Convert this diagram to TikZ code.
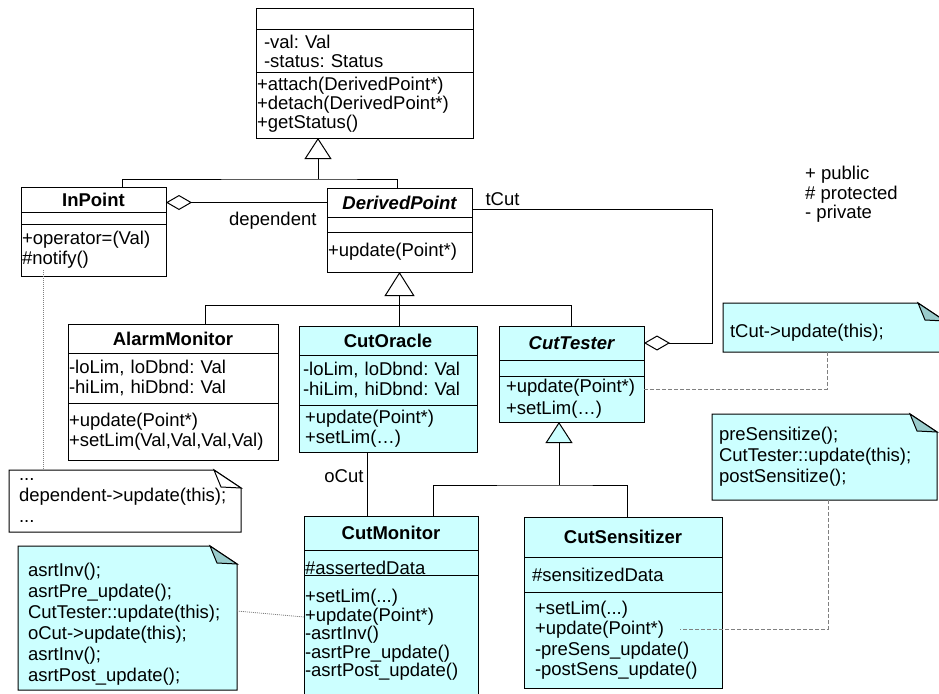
\documentclass[tikz,border=0pt]{standalone}
\usepackage{fontspec}
\setmainfont{Liberation Sans}
\usetikzlibrary{positioning,arrows.meta,backgrounds}
\definecolor{clsfill}{RGB}{204,255,255}
\definecolor{foldfill}{RGB}{153,204,204}
\hyphenpenalty=10000
\exhyphenpenalty=10000
\frenchspacing

\begin{document}
\begin{tikzpicture}[x=1pt, y=-1pt]
  \tikzstyle{compart} = [draw, line width=1pt, outer sep=0pt, inner ysep=0pt, inner xsep=0pt, align=left,
                         font=\fontsize{18.5}{20}\selectfont]
  \tikzstyle{cname} = [compart, align=center, font=\fontsize{18.5}{20}\selectfont\bfseries]
  \tikzstyle{cnamei} = [compart, align=center, font=\fontsize{18.5}{20}\selectfont\bfseries\itshape]
  \tikzstyle{note} = [inner ysep=0pt, outer sep=0pt, align=left, font=\fontsize{18.5}{21}\selectfont]
  \tikzstyle{lbl} = [inner sep=3pt, font=\fontsize{18.5}{20}\selectfont]
  \tikzstyle{conn} = [line width=1pt]
  \tikzstyle{inherit} = [line width=1pt, -{Triangle[width=27pt, length=21pt, fill=white]}]
  \tikzstyle{inheritc} = [line width=1pt, -{Triangle[width=27pt, length=21pt, fill=clsfill]}]
  \tikzstyle{aggreg} = [line width=1pt, {Diamond[width=15pt, length=26pt, fill=white]}-]
  \tikzstyle{notedash} = [line width=1pt, gray, dash pattern=on 4pt off 2pt]
  \tikzstyle{notedot} = [line width=0.8pt, gray, dash pattern=on 1pt off 1pt]
  \useasboundingbox (0,0) rectangle (939,693);

  \node[compart, text width=217pt, minimum height=21pt, anchor=north west] (ptName) at (256,9) {};
  \node[compart, text width=201pt, inner xsep=8pt, minimum height=42pt, below=0pt of ptName, font=\fontsize{18.5}{19}\selectfont] (ptAttr) {-val: Val\\-status: Status};
  \node[compart, text width=215pt, inner xsep=1pt, minimum height=66pt, below=0pt of ptAttr, font=\fontsize{18.5}{19}\selectfont] (ptOps) {+attach(DerivedPoint*)\\+detach(DerivedPoint*)\\+getStatus()};

  \node[cname, text width=145pt, minimum height=25pt, anchor=north west] (inName) at (21,187) {InPoint};
  \node[compart, text width=145pt, minimum height=12pt, below=0pt of inName] (inAttr) {};
  \node[compart, text width=143pt, inner xsep=1pt, minimum height=52pt, below=0pt of inAttr] (inOps) {+operator=(Val)\\\#notify()};

  \node[cnamei, text width=145pt, minimum height=29pt, anchor=north west] (dpName) at (327,188) {DerivedPoint};
  \node[compart, text width=145pt, minimum height=15pt, below=0pt of dpName] (dpAttr) {};
  \node[compart, text width=143pt, inner xsep=1pt, minimum height=40pt, below=0pt of dpAttr] (dpOps) {+update(Point*)};

  \node[cname, text width=210pt, minimum height=29pt, anchor=north west] (amName) at (68,324) {AlarmMonitor};
  \node[compart, text width=208pt, inner xsep=1pt, minimum height=50pt, below=0pt of amName] (amAttr) {-loLim, loDbnd: Val\\-hiLim, hiDbnd: Val};
  \node[compart, text width=208pt, inner xsep=1pt, minimum height=57pt, below=0pt of amAttr] (amOps) {+update(Point*)\\+setLim(Val,Val,Val,Val)};

  \node[cname, fill=clsfill, text width=178pt, minimum height=29pt, anchor=north west] (coName) at (299,326) {CutOracle};
  \node[compart, fill=clsfill, text width=170pt, inner xsep=4pt, minimum height=50pt, below=0pt of coName] (coAttr) {-loLim, loDbnd: Val\\-hiLim, hiDbnd: Val};
  \node[compart, fill=clsfill, text width=166pt, inner xsep=6pt, minimum height=47pt, below=0pt of coAttr] (coOps) {+update(Point*)\\+setLim(…)};

  \node[cnamei, fill=clsfill, text width=145pt, minimum height=34pt, anchor=north west] (ctName) at (499,326) {CutTester};
  \node[compart, fill=clsfill, text width=145pt, minimum height=16pt, below=0pt of ctName] (ctAttr) {};
  \node[compart, fill=clsfill, text width=131pt, inner xsep=7pt, minimum height=46pt, below=0pt of ctAttr, font=\fontsize{18.5}{22}\selectfont] (ctOps) {+update(Point*)\\+setLim(…)};

  \node[cname, fill=clsfill, text width=174pt, minimum height=34pt, anchor=north west] (cmName) at (304,516) {CutMonitor};
  \node[compart, fill=clsfill, text width=172pt, inner xsep=1pt, minimum height=25pt, text height=24pt, below=0pt of cmName] (cmAttr) {\#assertedData};
  \node[compart, fill=clsfill, text width=172pt, inner xsep=1pt, minimum height=120pt, below=0pt of cmAttr, font=\fontsize{18.5}{18.5}\selectfont] (cmOps) {+setLim(...)\\+update(Point*)\\-asrtInv()\\-asrtPre\_update()\\-asrtPost\_update()};

  \node[cname, fill=clsfill, text width=198pt, minimum height=40pt, anchor=north west] (csName) at (524,517) {CutSensitizer};
  \node[compart, fill=clsfill, text width=182pt, inner xsep=8pt, minimum height=35pt, below=0pt of csName] (csAttr) {\#sensitizedData};
  \node[compart, fill=clsfill, text width=176pt, inner xsep=11pt, minimum height=96pt, below=0pt of csAttr, font=\fontsize{18.5}{20.5}\selectfont] (csOps) {+setLim(...)\\+update(Point*)\\-preSens\_update()\\-postSens\_update()};

  \node[note, text width=208pt, inner xsep=7pt, minimum height=49pt, text height=23.5pt, anchor=north west] (tNote) at (723,303) {tCut->update(this);};
  \node[note, text width=211pt, inner xsep=7pt, minimum height=86pt, anchor=north west] (sNote) at (712,414) {preSensitize();\\CutTester::update(this);\\postSensitize();};
  \node[note, text width=212pt, inner xsep=10pt, minimum height=62pt, anchor=north west] (dNote) at (9,470) {...\\dependent->update(this);\\...};
  \node[note, text width=199pt, inner xsep=10pt, minimum height=144pt, text height=25.5pt, anchor=north west] (aNote) at (18,546) {asrtInv();\\asrtPre\_update();\\CutTester::update(this);\\oCut->update(this);\\asrtInv();\\asrtPost\_update();};

  \node[lbl, anchor=north west, align=left, font=\fontsize{18.5}{19.5}\selectfont] (legend) at (802,163) {+ public\\\# protected\\- private};

  \coordinate (bus1) at (318,179);
  \draw[inherit] (bus1) -- (bus1 |- ptOps.south);
  \draw[conn] ([xshift=28.5pt]inName.north) |- (bus1) -| ([xshift=-2.5pt]dpName.north);

  \path (dpOps.south) ++(0,33) coordinate (bus2);
  \draw[inherit, -{Triangle[width=30pt, length=24pt, fill=white]}] (bus2) -- (dpOps.south);
  \draw[conn] ([xshift=32pt]amName.north) |- (ctName.north |- bus2) -- (ctName.north);
  \draw[conn] (bus2) -- (bus2 |- coName.north);

  \path (ctOps.south) ++(-12.5,63) coordinate (bus3);
  \draw[inheritc] (bus3) -- (bus3 |- ctOps.south);
  \draw[conn] ([xshift=42pt]cmName.north) |- (bus3) -| ([xshift=4pt]csName.north);

  \draw[aggreg] (dpName.west -| inName.east) -- (dpName.west) node[lbl, anchor=north east, xshift=-7pt, yshift=-6pt] (depLbl) {dependent};
  \draw[aggreg] (ctName.east) -- ++(68,0) |- ([yshift=-6.5pt]dpName.east) node[lbl, anchor=south west, xshift=10pt] (tcutLbl) {tCut};
  \draw[conn] ([xshift=-21pt]coOps.south) -- ([xshift=-21pt]coOps.south |- cmName.north) node[lbl, pos=0.375, anchor=east] (ocutLbl) {oCut};

  \draw[notedash] ([xshift=-7pt]tNote.south) |- ([yshift=10pt]ctOps.east);
  \draw[notedash] ([xshift=3.5pt]sNote.south) |- ([xshift=-42pt, yshift=11pt]csOps.east);
  \draw[notedot] ([xshift=-50.5pt, yshift=6pt]inOps.south) -- ([xshift=-50.5pt]inOps.south |- dNote.north);
  \draw[notedot] ([yshift=7pt]aNote.east) -- ([yshift=18pt]cmOps.west);

  \begin{scope}[on background layer]
    \fill[white] (0,0) rectangle (939,693);
    \foreach \n/\c/\f in {tNote/clsfill/foldfill, sNote/clsfill/foldfill, dNote/white/white, aNote/clsfill/foldfill} {
      \filldraw[fill=\c, line width=1pt] (\n.north west) -- ([xshift=-27pt]\n.north east) -- ([yshift=-18pt]\n.north east) -- (\n.south east) -- (\n.south west) -- cycle;
      \filldraw[fill=\f, line width=1pt] ([xshift=-27pt]\n.north east) -- ([xshift=-20pt, yshift=-17pt]\n.north east) -- ([yshift=-18pt]\n.north east) -- cycle;
    }
  \end{scope}
\end{tikzpicture}
\end{document}
